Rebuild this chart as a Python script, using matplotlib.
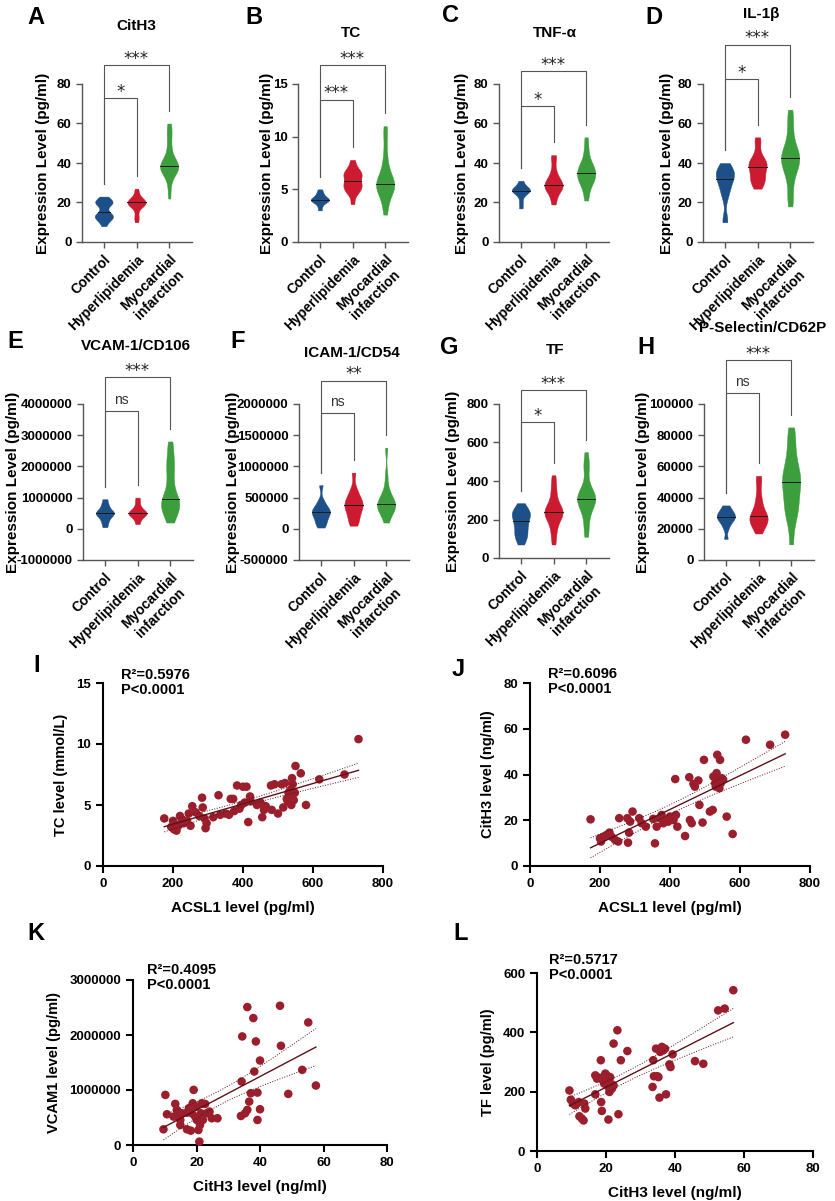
import matplotlib
matplotlib.use("Agg")
import matplotlib.pyplot as plt
import matplotlib.transforms as mtransforms
import numpy as np

plt.rcParams['font.family'] = ['Liberation Sans', 'DejaVu Sans']
plt.rcParams['font.weight'] = 'bold'

# ---------------- violin data ----------------
groups = ["Control", "Hyperlipidemia", "Myocardial\ninfarction"]

cith3_ctrl = [8, 10, 11, 12, 12.5, 13, 13, 13.5, 14, 15, 17, 19, 19.5, 20, 20, 20.5, 21, 22, 23]
cith3_hyp = [10, 12, 14, 17, 18, 18.5, 19, 19.5, 20, 20, 20.5, 21, 21.5, 22, 23, 25, 27]
cith3_mi = [22, 28, 33, 35, 36, 37, 37.5, 38, 38, 38.5, 39, 40, 41, 43, 46, 50, 54, 57, 60]

tc_ctrl = [3.0, 3.4, 3.7, 3.8, 3.9, 4.0, 4.0, 4.1, 4.2, 4.3, 4.5, 4.7, 5.0]
tc_hyp = [3.6, 4.5, 4.8, 5.0, 5.2, 5.3, 5.5, 5.7, 5.9, 6.2, 6.4, 6.5, 6.6, 6.8, 7.2, 7.8]
tc_mi = [2.6, 3.5, 4.2, 4.7, 5.0, 5.2, 5.3, 5.4, 5.5, 5.7, 6.0, 6.3, 6.8, 7.5, 8.5, 10.0, 11.0]

tnf_ctrl = [17, 20, 23, 24.5, 25.5, 26, 26, 26.5, 27, 28, 29, 31]
tnf_hyp = [19, 22, 25, 26, 27, 28, 28.5, 29, 30, 31, 32, 34, 37, 42, 44]
tnf_mi = [21, 25, 28, 30, 31, 32, 33, 34, 35, 36, 37, 38, 39, 41, 44, 48, 53]

il1b_ctrl = [10, 12, 22, 25, 27, 29, 31, 32, 33, 34, 35, 36, 37, 38, 40]
il1b_hyp = [27, 29, 31, 32, 33, 35, 37, 38, 39, 40, 41, 42, 45, 50, 53]
il1b_mi = [18, 22, 27, 33, 36, 37, 39, 41, 42, 43, 44, 45, 46, 49, 53, 58, 63, 67]

vcam_ctrl = [50000, 200000, 300000, 400000, 450000, 500000, 500000, 550000, 600000, 700000, 800000, 950000]
vcam_hyp = [150000, 300000, 380000, 440000, 480000, 500000, 520000, 560000, 620000, 700000, 850000, 1000000]
vcam_mi = [200000, 400000, 550000, 650000, 750000, 800000, 850000, 900000, 1000000, 1200000,
           1500000, 1800000, 2000000, 2200000, 2500000, 2800000]

icam_ctrl = [20000, 80000, 120000, 180000, 220000, 250000, 280000, 300000, 320000, 380000, 450000, 700000]
icam_hyp = [50000, 120000, 180000, 250000, 300000, 350000, 380000, 400000, 450000, 500000, 550000, 650000, 900000]
icam_mi = [100000, 200000, 280000, 320000, 350000, 370000, 380000, 400000, 420000, 480000,
           550000, 620000, 850000, 1300000]

tf_ctrl = [70, 100, 115, 130, 150, 170, 180, 200, 215, 225, 235, 245, 260, 285]
tf_hyp = [70, 120, 160, 190, 210, 225, 235, 240, 245, 255, 270, 300, 340, 380, 430]
tf_mi = [110, 160, 210, 250, 270, 290, 300, 305, 310, 320, 335, 350, 380, 470, 480, 550]

psel_ctrl = [13500, 20000, 23000, 25000, 26000, 27000, 28000, 29000, 30000, 31000, 33000, 35000]
psel_hyp = [17000, 21000, 23000, 25000, 26000, 27000, 28000, 30000, 33000, 37000, 42000, 50000, 54000]
psel_mi = [10000, 25000, 30000, 34000, 37000, 42000, 47000, 50000, 52000, 54000, 58000, 63000,
           70000, 78000, 85000]

# ---------------- scatter data ----------------
acsl1_i = [175, 195, 200, 203, 205, 210, 215, 220, 225, 230, 240, 245, 250, 255, 265, 275, 283, 285,
           290, 293, 296, 315, 330, 335, 350, 360, 365, 372, 375, 383, 390, 395, 400, 405, 410, 415,
           420, 422, 440, 445, 450, 455, 460, 465, 480, 482, 490, 500, 510, 515, 520, 525, 528, 530,
           533, 535, 538, 540, 542, 545, 548, 550, 565, 580, 618, 690, 730]
tc_i = [3.9, 3.2, 3.7, 3.0, 3.4, 2.9, 3.3, 4.1, 3.8, 3.5, 3.7, 4.3, 3.3, 4.9, 4.4, 4.1, 5.6, 4.8,
        3.9, 3.1, 3.5, 4.0, 5.8, 4.2, 4.3, 4.2, 5.5, 5.5, 4.5, 6.6, 4.7, 5.0, 6.5, 5.2, 6.5, 3.6,
        5.7, 5.3, 5.0, 5.1, 5.2, 4.0, 4.6, 4.9, 6.6, 4.6, 6.7, 4.3, 6.7, 4.8, 6.8, 5.5, 5.3, 6.0,
        5.6, 6.2, 5.0, 7.2, 6.7, 5.4, 6.0, 8.2, 7.6, 5.0, 7.1, 7.5, 10.4]

acsl1_j = [173, 200, 203, 210, 219, 227, 233, 243, 252, 255, 278, 280, 283, 286, 293, 312, 319, 331,
           352, 357, 362, 371, 376, 381, 386, 395, 400, 410, 417, 415, 421, 443, 455, 457, 462, 467,
           471, 481, 484, 493, 497, 514, 522, 524, 529, 531, 533, 535, 538, 541, 543, 545, 548, 552,
           562, 579, 617, 686, 729]
cith3_j = [20.4, 12.1, 10.7, 12.8, 13.6, 14.6, 12.8, 11.4, 10.7, 20.9, 20.9, 10.2, 14.6, 19.4, 23.8,
           20.9, 18.7, 17.2, 20.6, 9.9, 17.2, 20.9, 22.3, 18.7, 20.1, 19.4, 21.6, 20.1, 22.3, 38.0,
           17.2, 13.1, 38.8, 20.1, 18.7, 35.9, 34.7, 37.4, 26.7, 19.0, 46.4, 23.8, 24.5, 39.1, 36.2,
           34.7, 40.6, 48.6, 37.7, 34.0, 46.4, 36.2, 38.4, 37.7, 21.6, 14.0, 55.2, 53.0, 57.4]

cith3_k = [9.6, 10.2, 10.7, 13.3, 13.8, 12.8, 14.3, 14.9, 15.4, 14.9, 17.0, 17.6, 17.0, 18.2, 18.5,
           18.8, 19.1, 19.6, 19.9, 20.1, 20.6, 20.9, 21.1, 21.4, 21.7, 22.0, 22.7, 23.2, 24.1, 24.8,
           26.6, 34.0, 34.2, 34.4, 35.3, 36.0, 36.0, 36.6, 37.1, 37.9, 38.2, 38.7, 39.2, 39.2, 40.0,
           40.0, 46.3, 46.6, 48.9, 53.3, 55.2, 57.6]
vcam1_k = [285000, 911000, 559000, 747000, 638000, 516000, 516000, 364000, 577000, 455000, 589000,
           668000, 285000, 261000, 577000, 759000, 1002000, 516000, 699000, 455000, 273000, 61000,
           364000, 577000, 759000, 455000, 747000, 577000, 607000, 486000, 486000, 528000, 1154000,
           1974000, 577000, 2508000, 638000, 789000, 941000, 2308000, 1336000, 1883000, 455000,
           953000, 1536000, 650000, 2532000, 1804000, 929000, 1366000, 2229000, 1081000]

cith3_l = [9.4, 9.8, 10.4, 11.1, 11.6, 12.1, 12.3, 13.0, 13.5, 13.7, 14.0, 16.9, 16.9, 17.4, 18.1,
           18.5, 18.6, 18.8, 19.1, 19.5, 19.8, 20.2, 20.4, 20.7, 20.7, 21.0, 21.2, 21.4, 21.7, 22.2,
           22.2, 23.3, 23.6, 24.3, 26.2, 33.5, 33.7, 33.9, 34.5, 34.9, 35.2, 35.5, 35.7, 36.2, 36.6,
           37.1, 37.4, 38.4, 38.7, 39.3, 45.8, 48.2, 52.5, 54.4, 56.9]
tf_l = [204, 173, 160, 154, 160, 165, 117, 109, 103, 160, 143, 191, 255, 244, 247, 306, 165, 135,
        238, 227, 261, 255, 233, 106, 216, 199, 249, 227, 210, 362, 221, 407, 124, 306, 337, 216,
        306, 252, 345, 252, 249, 180, 334, 351, 339, 345, 191, 292, 283, 326, 303, 294, 474, 480, 542]

# ---------------- layout helpers ----------------
W, H = 835, 1201
fig = plt.figure(figsize=(W / 100, H / 100), dpi=100)


def add_ax(left, top, right, bottom):
    return fig.add_axes([left / W, 1 - bottom / H, (right - left) / W, (bottom - top) / H])


def fig_text(x, y, s, **kw):
    fig.text(x / W, 1 - y / H, s, **kw)


colors = ['#1d5089', '#cc1a30', '#3c9e3c']


def fmt(v):
    return str(int(v))


def violin_panel(box, datasets, ylim, yticks, sigs, br_fracs, title, title_xy, letter, letter_xy,
                 label_x):
    ax = add_ax(*box)
    pos = [0, 1, 2]
    parts = ax.violinplot(datasets, positions=pos, widths=0.56, showextrema=False,
                          showmedians=False, bw_method=0.38)
    for body, c, p, d in zip(parts['bodies'], colors, pos, datasets):
        body.set_facecolor(c)
        body.set_edgecolor(c)
        body.set_linewidth(0.3)
        body.set_alpha(1)
        med = np.median(d)
        v = body.get_paths()[0].vertices
        left = v[v[:, 0] <= p]
        order = np.argsort(left[:, 1])
        hw = p - np.interp(med, left[order, 1], left[order, 0])
        ax.plot([p - hw, p + hw], [med, med], color='#1a1a1a', lw=0.7, zorder=3)
    ax.set_xlim(-0.67, 2.7)
    ax.set_ylim(*ylim)
    ax.set_yticks(yticks)
    ax.set_yticklabels([fmt(t) for t in yticks], fontsize=9.5, fontweight='bold')
    ax.set_xticks(pos)
    ax.set_xticklabels(groups, rotation=45, ha='right', va='top', rotation_mode='anchor',
                       multialignment='center', fontsize=10, fontweight='bold')
    for s in ['top', 'right']:
        ax.spines[s].set_visible(False)
    for s in ['left', 'bottom']:
        ax.spines[s].set_color('#555555')
        ax.spines[s].set_linewidth(1.0)
    ax.tick_params(colors='#555555', length=4, width=1.0, labelcolor='black')
    ax.set_ylabel("Expression Level (pg/ml)", fontsize=11, fontweight='bold')
    # label centre given in figure pixels; the coordinate is the label's right edge
    ax.yaxis.set_label_coords((label_x + 7 - box[0]) / (box[2] - box[0]), 0.5)

    # significance brackets
    trans = mtransforms.blended_transform_factory(ax.transData, ax.transAxes)
    span = ylim[1] - ylim[0]
    tops = [(max(d) + 0.08 * span - ylim[0]) / span for d in datasets]
    for (j, lab), h in zip(sigs, br_fracs):
        ax.plot([0, 0, j, j], [tops[0], h, h, tops[j]], color='#555555', lw=0.8,
                transform=trans, clip_on=False)
        if lab == 'ns':
            ax.annotate(lab, xy=(j / 2, h), xycoords=trans, xytext=(0, 5), textcoords='offset points',
                        ha='center', va='baseline', fontsize=10, fontweight='normal', color='#333333')
        else:
            ax.annotate(lab, xy=(j / 2, h), xycoords=trans, xytext=(0, 1), textcoords='offset points',
                        ha='center', va='baseline', fontsize=12, fontweight='normal',
                        family='DejaVu Sans', color='#222222')
    fig_text(*title_xy, title, ha='center', va='center', fontsize=11, fontweight='bold')
    fig_text(*letter_xy, letter, ha='left', va='center', fontsize=17, fontweight='bold')
    return ax


# row 1
violin_panel((82, 84, 192, 242), [cith3_ctrl, cith3_hyp, cith3_mi], (0, 80), [0, 20, 40, 60, 80],
             [(1, '*'), (2, '***')], [0.91, 1.12], "CitH3", (136, 26), "A", (27, 18), 43)
violin_panel((298, 84, 408, 242), [tc_ctrl, tc_hyp, tc_mi], (0, 15), [0, 5, 10, 15],
             [(1, '***'), (2, '***')], [0.90, 1.12], "TC", (351, 33), "B", (245, 17), 267)
violin_panel((499, 84, 609, 242), [tnf_ctrl, tnf_hyp, tnf_mi], (0, 80), [0, 20, 40, 60, 80],
             [(1, '*'), (2, '***')], [0.86, 1.08], "TNF-α", (555, 33), "C", (442, 16), 462)
violin_panel((703, 84, 813, 242), [il1b_ctrl, il1b_hyp, il1b_mi], (0, 80), [0, 20, 40, 60, 80],
             [(1, '*'), (2, '***')], [1.03, 1.25], "IL-1β", (761, 14), "D", (645, 17), 667)

# row 2
violin_panel((83, 404, 193, 560), [vcam_ctrl, vcam_hyp, vcam_mi], (-1000000, 4000000),
             [-1000000, 0, 1000000, 2000000, 3000000, 4000000],
             [(1, 'ns'), (2, '***')], [0.955, 1.17], "VCAM-1/CD106", (136, 346), "E", (7, 342), 13)
violin_panel((299, 404, 409, 560), [icam_ctrl, icam_hyp, icam_mi], (-500000, 2000000),
             [-500000, 0, 500000, 1000000, 1500000, 2000000],
             [(1, 'ns'), (2, '**')], [0.94, 1.15], "ICAM-1/CD54", (352, 353), "F", (230, 342), 233)
violin_panel((499, 404, 609, 558), [tf_ctrl, tf_hyp, tf_mi], (0, 800), [0, 200, 400, 600, 800],
             [(1, '*'), (2, '***')], [0.88, 1.09], "TF", (555, 350), "G", (440, 347), 453)
violin_panel((704, 404, 814, 560), [psel_ctrl, psel_hyp, psel_mi], (0, 100000),
             [0, 20000, 40000, 60000, 80000, 100000],
             [(1, 'ns'), (2, '***')], [1.07, 1.28], "P-Selectin/CD62P", (763, 328), "H", (637, 347), 643)


# ---------------- scatter panels ----------------
pt_color = '#9a1e2c'


def fit_band(x, y):
    x = np.asarray(x, float)
    y = np.asarray(y, float)
    b, a = np.polyfit(x, y, 1)
    xs = np.linspace(x.min(), x.max(), 100)
    yhat = a + b * xs
    n = len(x)
    resid = y - (a + b * x)
    s = np.sqrt(np.sum(resid ** 2) / (n - 2))
    se = s * np.sqrt(1 / n + (xs - x.mean()) ** 2 / np.sum((x - x.mean()) ** 2))
    return xs, yhat, yhat - 2.0 * se, yhat + 2.0 * se


def scatter_panel(box, x, y, xlim, xticks, ylim, yticks, xlabel, ylabel, stats, stats_xy,
                  letter, letter_xy):
    ax = add_ax(*box)
    ax.scatter(x, y, s=38, color=pt_color, edgecolors='none', zorder=3, clip_on=False)
    xs, yh, lo, hi = fit_band(x, y)
    ax.plot(xs, yh, color='#5e1019', lw=1.0, zorder=4)
    ax.plot(xs, lo, color='#5e1019', lw=0.7, ls=':', zorder=4)
    ax.plot(xs, hi, color='#5e1019', lw=0.7, ls=':', zorder=4)
    ax.set_xlim(*xlim)
    ax.set_ylim(*ylim)
    ax.set_xticks(xticks)
    ax.set_xticklabels([fmt(t) for t in xticks], fontsize=9.5, fontweight='bold')
    ax.set_yticks(yticks)
    ax.set_yticklabels([fmt(t) for t in yticks], fontsize=9.5, fontweight='bold')
    for s in ['top', 'right']:
        ax.spines[s].set_visible(False)
    for s in ['left', 'bottom']:
        ax.spines[s].set_linewidth(1.5)
    ax.tick_params(length=5, width=1.5)
    ax.set_xlabel(xlabel, fontsize=11, fontweight='bold', labelpad=8)
    ax.set_ylabel(ylabel, fontsize=10.5, fontweight='bold', labelpad=6)
    fig_text(*stats_xy, stats, ha='left', va='top', fontsize=10.5, fontweight='bold',
             linespacing=1.1)
    fig_text(*letter_xy, letter, ha='left', va='center', fontsize=17, fontweight='bold')


scatter_panel((103, 683, 383, 866), acsl1_i, tc_i, (0, 800), [0, 200, 400, 600, 800],
              (0, 15), [0, 5, 10, 15], "ACSL1 level (pg/ml)", "TC level (mmol/L)",
              "R²=0.5976\nP<0.0001", (121, 668), "I", (33, 666))
scatter_panel((530, 683, 810, 866), acsl1_j, cith3_j, (0, 800), [0, 200, 400, 600, 800],
              (0, 80), [0, 20, 40, 60, 80], "ACSL1 level (pg/ml)", "CitH3 level (ng/ml)",
              "R²=0.6096\nP<0.0001", (548, 667), "J", (452, 670))
scatter_panel((133, 980, 387, 1145), cith3_k, vcam1_k, (0, 80), [0, 20, 40, 60, 80],
              (0, 3000000), [0, 1000000, 2000000, 3000000], "CitH3 level (ng/ml)",
              "VCAM1 level (pg/ml)", "R²=0.4095\nP<0.0001", (147, 963), "K", (27, 933))
scatter_panel((537, 973, 813, 1151), cith3_l, tf_l, (0, 80), [0, 20, 40, 60, 80],
              (0, 600), [0, 200, 400, 600], "CitH3 level (ng/ml)", "TF level (pg/ml)",
              "R²=0.5717\nP<0.0001", (549, 953), "L", (453, 933))

fig.savefig("out.png", dpi=100)
